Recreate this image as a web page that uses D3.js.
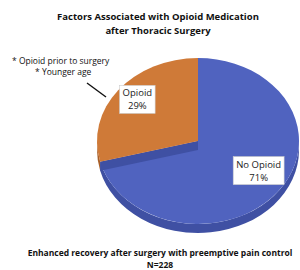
<!DOCTYPE html>
<html>
<head>
<meta charset="utf-8">
<script src="https://cdn.jsdelivr.net/npm/d3@7"></script>
<style>
  body { margin: 0; background: #fff; }
  svg { display: block; }
</style>
</head>
<body>
<svg id="chart" width="300" height="270"></svg>
<script>
// data
var categories = ["No Opioid", "Opioid"];
var values = [71, 29];
var titleLines = ["Factors Associated with Opioid Medication", "after Thoracic Surgery"];
var noteLines = ["* Opioid prior to surgery", "* Younger age"];
var footLines = ["Enhanced recovery after surgery with preemptive pain control", "N=228"];

var topColor = ["#5063bf", "#cf7a38"];
var sideColor = ["#3f50a3", "#a85f28"];

var svg = d3.select("#chart");
var font = "'Open Sans', sans-serif";

// pie geometry (tilted ellipse)
var cx = 198, cy = 141, rx = 101, ry = 83, depth = 9;

var pie = d3.pie().sort(null).value(d => d);
var arcs = pie(values);

function pt(a, dy) {
  return [cx + rx * Math.sin(a), cy - ry * Math.cos(a) + (dy || 0)];
}

// side walls (front half only)
arcs.forEach((d, i) => {
  var a0 = Math.max(d.startAngle, Math.PI / 2);
  var a1 = Math.min(d.endAngle, 3 * Math.PI / 2);
  if (a1 <= a0) return;
  var p0 = pt(a0), p1 = pt(a1), q1 = pt(a1, depth), q0 = pt(a0, depth);
  var path = "M" + p0 + " A" + rx + "," + ry + " 0 0 1 " + p1 +
    " L" + q1 + " A" + rx + "," + ry + " 0 0 0 " + q0 + " Z";
  svg.append("path").attr("d", path).attr("fill", sideColor[i]);
});

// top faces
function slicePath(d) {
  var p0 = pt(d.startAngle), p1 = pt(d.endAngle);
  var large = (d.endAngle - d.startAngle) > Math.PI ? 1 : 0;
  return "M" + cx + "," + cy + " L" + p0 + " A" + rx + "," + ry + " 0 " + large + " 1 " + p1 + " Z";
}

svg.append("path").attr("d", slicePath(arcs[0])).attr("fill", topColor[0]);

// cut face of the blue slice under the orange edge
var e = pt(arcs[1].startAngle);
svg.append("path")
  .attr("d", "M" + cx + "," + cy + " L" + e + " L" + [e[0], e[1] + depth] + " L" + [cx, cy + depth] + " Z")
  .attr("fill", sideColor[0]);

svg.append("path").attr("d", slicePath(arcs[1])).attr("fill", topColor[1]);

// data labels
arcs.forEach((d, i) => {
  var mid = (d.startAngle + d.endAngle) / 2;
  var lx = cx + rx * 0.76 * Math.sin(mid);
  var ly = cy - ry * 0.7 * Math.cos(mid) - 8;
  var g = svg.append("g").attr("transform", "translate(" + lx + "," + ly + ")");
  var lines = [categories[i], values[i] + "%"];
  g.selectAll("text").data(lines).enter().append("text")
    .attr("x", 0).attr("y", (t, j) => -1 + j * 13)
    .attr("text-anchor", "middle")
    .attr("font-family", font)
    .attr("font-size", 9.5)
    .attr("fill", "#222")
    .text(t => t);
  var bb = g.node().getBBox();
  g.insert("rect", "text")
    .attr("x", bb.x - 3).attr("y", bb.y - 1)
    .attr("width", bb.width + 6).attr("height", bb.height + 2)
    .attr("fill", "#fff").attr("stroke", "#ccc").attr("stroke-width", 0.6);
});

// title
svg.selectAll(".title").data(titleLines).enter().append("text")
  .attr("class", "title")
  .attr("x", 158).attr("y", (d, i) => 20 + i * 14)
  .attr("text-anchor", "middle")
  .attr("font-family", font).attr("font-weight", "bold").attr("font-size", 9.5)
  .attr("fill", "#111")
  .text(d => d);

// annotation
svg.selectAll(".note").data(noteLines).enter().append("text")
  .attr("class", "note")
  .attr("x", (d, i) => i === 0 ? 12 : 35).attr("y", (d, i) => 64 + i * 11)
  .attr("font-family", font).attr("font-size", 8.5)
  .attr("fill", "#111")
  .text(d => d);

svg.append("line")
  .attr("x1", 87).attr("y1", 83).attr("x2", 106).attr("y2", 97)
  .attr("stroke", "#111").attr("stroke-width", 1.4);

// footer
svg.selectAll(".foot").data(footLines).enter().append("text")
  .attr("class", "foot")
  .attr("x", 160).attr("y", (d, i) => 256 + i * 12)
  .attr("text-anchor", "middle")
  .attr("font-family", font).attr("font-weight", "bold").attr("font-size", 8.5)
  .attr("fill", "#111")
  .text(d => d);
</script>
</body>
</html>
